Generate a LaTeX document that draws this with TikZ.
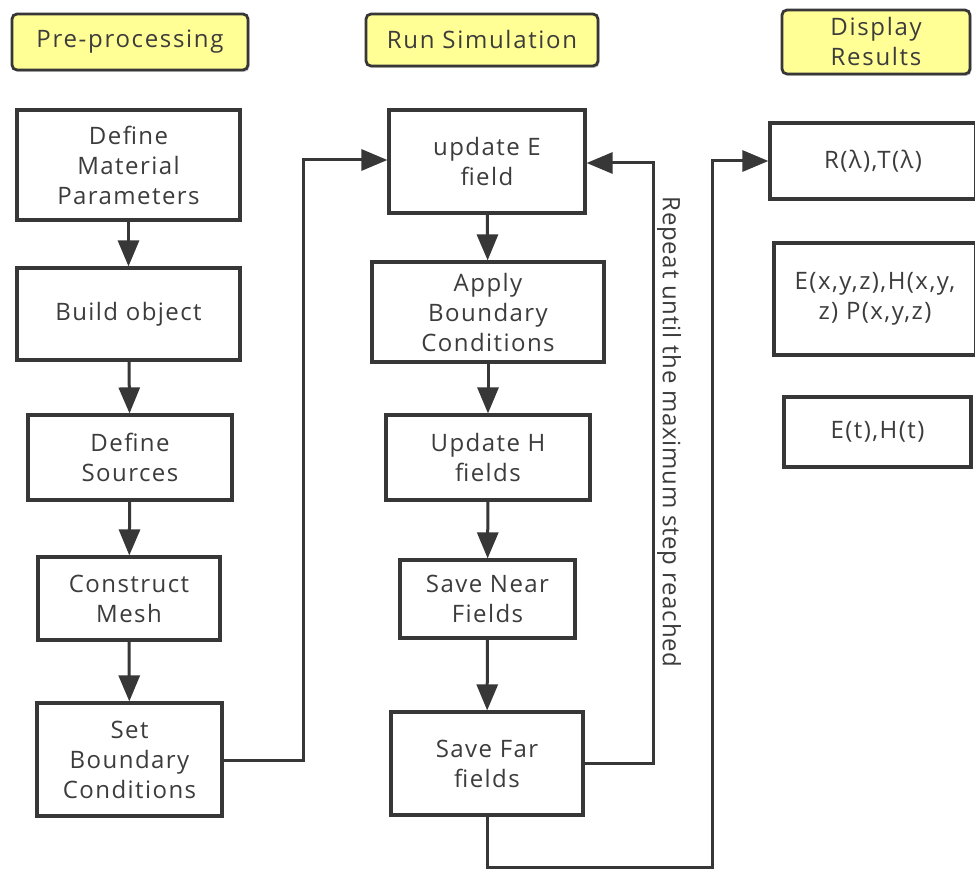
\documentclass[tikz,border=0pt]{standalone}
\usepackage{fontspec}
\setmainfont{Open Sans}
\newfontfamily\boxfont[LetterSpace=6]{Open Sans}
\newfontfamily\headfont[LetterSpace=7]{Open Sans}
\newfontfamily\lblfont[LetterSpace=3]{Open Sans}
\usetikzlibrary{arrows.meta,shadows}
\definecolor{linec}{RGB}{55,55,55}
\definecolor{textc}{RGB}{60,60,60}
\definecolor{headfill}{RGB}{255,255,150}
\tikzset{
  box/.style={draw=linec, line width=3.2pt, fill=white, align=center, text=textc,
    font=\boxfont\fontsize{24}{30}\selectfont, inner sep=0pt},
  head/.style={box, rounded corners=5pt, fill=headfill, line width=2.8pt,
    font=\headfont\fontsize{24}{30}\selectfont,
    drop shadow={shadow xshift=1.5pt, shadow yshift=-2pt, fill=black!35}},
  conn/.style={draw=linec, line width=3pt},
  arr/.style={conn, -{Triangle[length=26pt,width=21pt]}},
}
\begin{document}
\begin{tikzpicture}[x=1pt,y=-1pt]
\useasboundingbox (0,0) rectangle (975,869);
\fill[white] (0,0) rectangle (975,869);
% headers
\node[head, minimum width=236pt, minimum height=56pt] (hpre) at (130,42) {Pre-processing};
\node[head, minimum width=232pt, minimum height=52pt] (hrun) at (482,40) {Run Simulation};
\node[head, minimum width=188pt, minimum height=64pt] (hdisp) at (876,42) {Display\\Results};
% left column
\node[box, minimum width=223pt, minimum height=110pt] (mat) at (128.5,165) {Define\\Material\\Parameters};
\node[box, minimum width=223pt, minimum height=92pt] (build) at (128.5,314) {Build object};
\node[box, minimum width=204pt, minimum height=85pt] (src) at (130,457.5) {Define\\Sources};
\node[box, minimum width=182pt, minimum height=83pt] (mesh) at (129,598.5) {Construct\\Mesh};
\node[box, minimum width=185pt, minimum height=113pt] (setbc) at (129.5,759.5) {Set\\Boundary\\Conditions};
% middle column
\node[box, minimum width=196pt, minimum height=103pt] (upE) at (487,161.5) {update E\\field};
\node[box, minimum width=232pt, minimum height=100pt] (apply) at (488,312) {Apply\\Boundary\\Conditions};
\node[box, minimum width=204pt, minimum height=85pt] (upH) at (488,457.5) {Update H\\fields};
\node[box, minimum width=175pt, minimum height=78pt] (near) at (487.5,599) {Save Near\\Fields};
\node[box, minimum width=192pt, minimum height=103pt] (far) at (487,763.5) {Save Far\\fields};
% right column
\begin{scope}
\clip (0,0) rectangle (975,869);
\node[box, minimum width=206pt, minimum height=76pt] (rt) at (873,161) {R(λ),T(λ)};
\node[box, minimum width=202pt, minimum height=112pt] (exyz) at (875,299) {E(x,y,z),H(x,y,\\z) P(x,y,z)};
\end{scope}
\node[box, minimum width=187pt, minimum height=70pt] (et) at (877.5,432) {E(t),H(t)};
% vertical arrows
\draw[arr] (mat) -- (build);
\draw[arr] (build) -- (src);
\draw[arr] (src) -- (mesh);
\draw[arr] (mesh) -- (setbc);
\draw[arr] (upE) -- (apply);
\draw[arr] (apply) -- (upH);
\draw[arr] (upH) -- (near);
\draw[arr] (near) -- (far);
% connectors
\coordinate (c1) at (303,760);
\draw[arr] (setbc.east |- c1) -- (c1) |- (upE.west |- 0,160);
\coordinate (c2) at (653,763);
\draw[arr] (far.east |- c2) -- (c2) |- (upE.east |- 0,163);
\coordinate (c3) at (712,867);
\draw[arr] (far.south) |- (c3) |- (rt.west);
\node[rotate=-90, text=textc, font=\lblfont\fontsize{24}{28}\selectfont, inner sep=0pt] (lbl) at (669,432) {Repeat until the maximum step reached};
\end{tikzpicture}
\end{document}
